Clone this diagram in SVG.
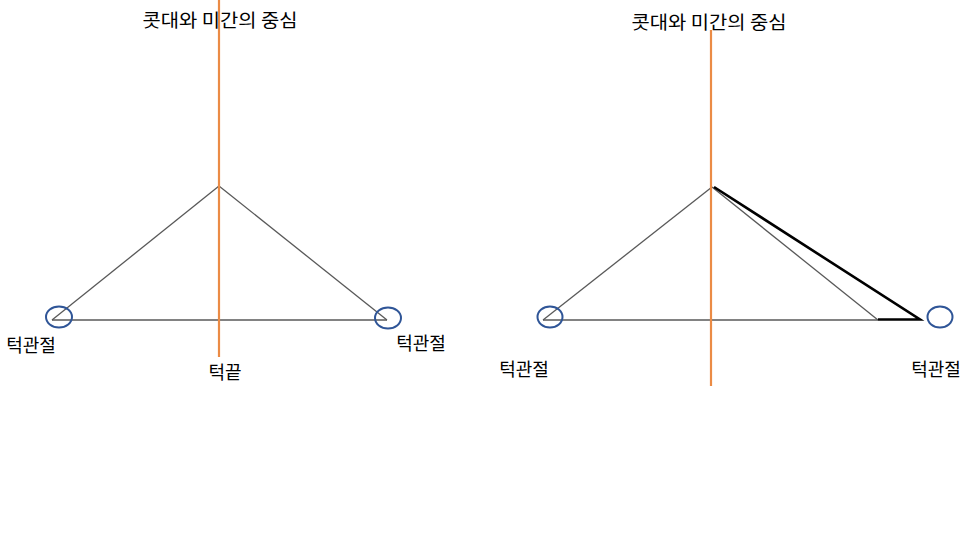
<svg xmlns="http://www.w3.org/2000/svg" width="966" height="543" viewBox="0 0 966 543">
<style>
.t{font-family:"Noto Sans CJK KR","Noto Sans",sans-serif;font-size:18px;fill:#000;text-anchor:middle}
.thin{stroke:#595959;stroke-width:1.3;fill:none}
.axis{stroke:#EB8B45;stroke-width:2.2;fill:none}
.joint{stroke:#2F5597;stroke-width:2;fill:none}
.bold{stroke:#000;stroke-width:2.6;fill:none;stroke-linejoin:miter}
</style>
<rect width="966" height="543" fill="#fff"/>
<g id="connectors">
<line class="thin" x1="219" y1="186" x2="52" y2="320"/>
<line class="thin" x1="219" y1="186" x2="387" y2="320"/>
<line class="thin" x1="52" y1="320" x2="387" y2="320"/>
<line class="axis" x1="219" y1="0" x2="219" y2="357"/>
<line class="thin" x1="712" y1="187" x2="543" y2="320"/>
<line class="thin" x1="712" y1="187" x2="878" y2="320"/>
<line class="thin" x1="543" y1="320" x2="878" y2="320"/>
<polyline class="bold" points="714,187 920,319.5 878,319.5"/>
<line class="axis" x1="711" y1="30" x2="711" y2="386"/>
</g>
<g id="left-title"><text class="t" x="220" y="27" textLength="155" lengthAdjust="spacingAndGlyphs">콧대와 미간의 중심</text></g>
<g id="left-joint-l"><ellipse class="joint" cx="59" cy="317" rx="13" ry="10.5"/></g>
<g id="left-joint-r"><ellipse class="joint" cx="388" cy="318" rx="13" ry="10.5"/></g>
<g id="left-label-l"><text class="t" x="31" y="352">턱관절</text></g>
<g id="left-label-r"><text class="t" x="421" y="350">턱관절</text></g>
<g id="left-chin"><text class="t" x="225" y="379">턱끝</text></g>
<g id="right-title"><text class="t" x="709" y="29" textLength="155" lengthAdjust="spacingAndGlyphs">콧대와 미간의 중심</text></g>
<g id="right-joint-l"><ellipse class="joint" cx="550" cy="317" rx="12.5" ry="10.5"/></g>
<g id="right-joint-r"><ellipse class="joint" cx="940" cy="317" rx="12.5" ry="10.5"/></g>
<g id="right-label-l"><text class="t" x="524" y="376">턱관절</text></g>
<g id="right-label-r"><text class="t" x="936" y="376">턱관절</text></g>
</svg>
